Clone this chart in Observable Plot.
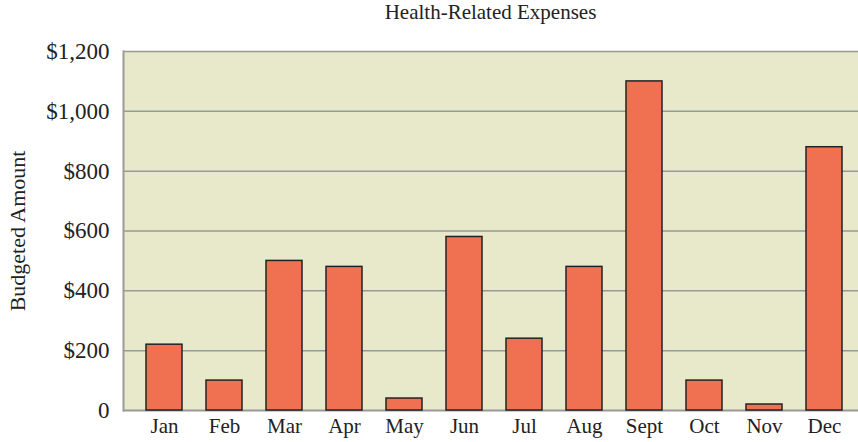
<!DOCTYPE html>
<html><head><meta charset="utf-8">
<script src="https://cdn.jsdelivr.net/npm/d3@7"></script>
<script src="https://cdn.jsdelivr.net/npm/@observablehq/plot@0.6"></script>
<style>
body{margin:0;background:#fff;}
#title{height:40px;line-height:40px;padding-left:123px;text-align:center;font:21px "Liberation Serif",serif;color:#222;}
</style></head>
<body>
<div id="title">Health-Related Expenses</div>
<div id="chart"></div>
<script>
const months = ["Jan","Feb","Mar","Apr","May","Jun","Jul","Aug","Sept","Oct","Nov","Dec"];
const amounts = [220,100,500,480,40,580,240,480,1100,100,20,880];
const yTicks = [0,200,400,600,800,1000,1200];
const yLabel = "Budgeted Amount";
const data = months.map((m,i)=>({month:m, amount:amounts[i]}));
const fmt = d => d === 0 ? "0" : "$" + d3.format(",")(d);
const chart = Plot.plot({
  width: 858, height: 402,
  marginLeft: 123, marginRight: 0, marginTop: 11, marginBottom: 32,
  insetLeft: 11, insetRight: 4,
  style: {fontFamily: '"Liberation Serif", serif', fontSize: "21px", color: "#222", background: "#fff", overflow: "visible"},
  x: {domain: months, paddingInner: 0.4, paddingOuter: 0.2, label: null},
  y: {domain: [0,1200], label: null},
  marks: [
    Plot.frame({fill: "#e8e8ca", stroke: null}),
    Plot.ruleY(yTicks.filter(d=>d>0), {stroke: "#999", strokeWidth: 1.5}),
    Plot.ruleY([0], {stroke: "#999", strokeWidth: 2}),
    Plot.frame({anchor: "left", stroke: "#999", strokeWidth: 2}),
    Plot.barY(data, {x: "month", y: "amount", fill: "#f07052", stroke: "#222", strokeWidth: 1.5}),
    Plot.axisY({ticks: yTicks, tickFormat: fmt, tickSize: 0, tickPadding: 14, label: null, fontSize: 23}),
    Plot.text([yLabel], {frameAnchor: "left", textAnchor: "middle", lineAnchor: "middle", dx: -106, rotate: -90, fontSize: 22, fill: "#222"}),
    Plot.axisX({tickSize: 0, tickPadding: 8, label: null, fontSize: 21})
  ]
});
document.getElementById("chart").append(chart);
</script>
</body></html>
